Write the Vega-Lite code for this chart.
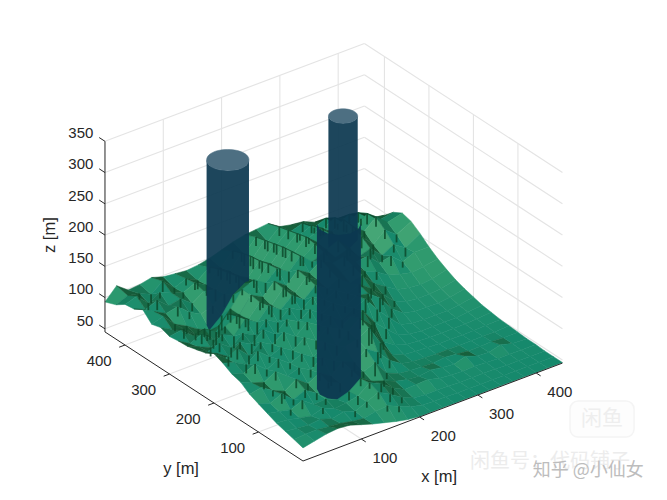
{"$schema":"https://vega.github.io/schema/vega-lite/v6.json","width":667,"height":500,"padding":0,"autosize":{"type":"fit","contains":"padding"},"background":"white","view":{"stroke":null},
"datasets":{
"t":[
{"y":445,"x":0,"z":93},{"y":445,"x":20,"z":112},{"y":445,"x":40,"z":98},{"y":445,"x":60,"z":100},{"y":445,"x":80,"z":104},{"y":445,"x":100,"z":98},{"y":445,"x":120,"z":96},{"y":445,"x":140,"z":94},{"y":445,"x":160,"z":96},{"y":445,"x":180,"z":100},{"y":445,"x":200,"z":106},{"y":445,"x":220,"z":112},{"y":445,"x":240,"z":116},{"y":445,"x":260,"z":118},{"y":445,"x":280,"z":120},{"y":445,"x":300,"z":108},{"y":445,"x":320,"z":104},{"y":445,"x":340,"z":102},{"y":445,"x":360,"z":94},{"y":445,"x":380,"z":90},{"y":445,"x":400,"z":86},{"y":445,"x":420,"z":80},{"y":445,"x":445,"z":74},
{"y":420,"x":0,"z":100},{"y":420,"x":20,"z":108},{"y":420,"x":40,"z":104},{"y":420,"x":60,"z":96},{"y":420,"x":80,"z":110},{"y":420,"x":100,"z":92},{"y":420,"x":120,"z":100},{"y":420,"x":140,"z":90},{"y":420,"x":160,"z":104},{"y":420,"x":180,"z":96},{"y":420,"x":200,"z":116},{"y":420,"x":220,"z":104},{"y":420,"x":240,"z":124},{"y":420,"x":260,"z":110},{"y":420,"x":280,"z":126},{"y":420,"x":300,"z":112},{"y":420,"x":320,"z":118},{"y":420,"x":340,"z":104},{"y":420,"x":360,"z":112},{"y":420,"x":380,"z":96},{"y":420,"x":400,"z":104},{"y":420,"x":420,"z":90},{"y":420,"x":445,"z":80},
{"y":400,"x":0,"z":110},{"y":400,"x":20,"z":116},{"y":400,"x":40,"z":98},{"y":400,"x":60,"z":108},{"y":400,"x":80,"z":100},{"y":400,"x":100,"z":94},{"y":400,"x":120,"z":102},{"y":400,"x":140,"z":92},{"y":400,"x":160,"z":110},{"y":400,"x":180,"z":100},{"y":400,"x":200,"z":122},{"y":400,"x":220,"z":108},{"y":400,"x":240,"z":128},{"y":400,"x":260,"z":114},{"y":400,"x":280,"z":130},{"y":400,"x":300,"z":116},{"y":400,"x":320,"z":124},{"y":400,"x":340,"z":112},{"y":400,"x":360,"z":122},{"y":400,"x":380,"z":104},{"y":400,"x":400,"z":116},{"y":400,"x":420,"z":100},{"y":400,"x":445,"z":96},
{"y":380,"x":0,"z":112},{"y":380,"x":20,"z":104},{"y":380,"x":40,"z":112},{"y":380,"x":60,"z":96},{"y":380,"x":80,"z":100},{"y":380,"x":100,"z":86},{"y":380,"x":120,"z":98},{"y":380,"x":140,"z":94},{"y":380,"x":160,"z":114},{"y":380,"x":180,"z":102},{"y":380,"x":200,"z":126},{"y":380,"x":220,"z":110},{"y":380,"x":240,"z":132},{"y":380,"x":260,"z":118},{"y":380,"x":280,"z":134},{"y":380,"x":300,"z":120},{"y":380,"x":320,"z":128},{"y":380,"x":340,"z":116},{"y":380,"x":360,"z":128},{"y":380,"x":380,"z":108},{"y":380,"x":400,"z":124},{"y":380,"x":420,"z":106},{"y":380,"x":445,"z":110},
{"y":360,"x":0,"z":120},{"y":360,"x":20,"z":110},{"y":360,"x":40,"z":100},{"y":360,"x":60,"z":104},{"y":360,"x":80,"z":88},{"y":360,"x":100,"z":78},{"y":360,"x":120,"z":84},{"y":360,"x":140,"z":96},{"y":360,"x":160,"z":118},{"y":360,"x":180,"z":108},{"y":360,"x":200,"z":128},{"y":360,"x":220,"z":116},{"y":360,"x":240,"z":136},{"y":360,"x":260,"z":120},{"y":360,"x":280,"z":138},{"y":360,"x":300,"z":122},{"y":360,"x":320,"z":130},{"y":360,"x":340,"z":112},{"y":360,"x":360,"z":126},{"y":360,"x":380,"z":112},{"y":360,"x":400,"z":128},{"y":360,"x":420,"z":112},{"y":360,"x":445,"z":118},
{"y":340,"x":0,"z":106},{"y":340,"x":20,"z":112},{"y":340,"x":40,"z":92},{"y":340,"x":60,"z":82},{"y":340,"x":80,"z":70},{"y":340,"x":100,"z":62},{"y":340,"x":120,"z":78},{"y":340,"x":140,"z":104},{"y":340,"x":160,"z":116},{"y":340,"x":180,"z":112},{"y":340,"x":200,"z":132},{"y":340,"x":220,"z":118},{"y":340,"x":240,"z":138},{"y":340,"x":260,"z":122},{"y":340,"x":280,"z":136},{"y":340,"x":300,"z":120},{"y":340,"x":320,"z":128},{"y":340,"x":340,"z":108},{"y":340,"x":360,"z":120},{"y":340,"x":380,"z":100},{"y":340,"x":400,"z":116},{"y":340,"x":420,"z":102},{"y":340,"x":445,"z":114},
{"y":320,"x":0,"z":110},{"y":320,"x":20,"z":100},{"y":320,"x":40,"z":94},{"y":320,"x":60,"z":78},{"y":320,"x":80,"z":70},{"y":320,"x":100,"z":78},{"y":320,"x":120,"z":98},{"y":320,"x":140,"z":122},{"y":320,"x":160,"z":130},{"y":320,"x":180,"z":118},{"y":320,"x":200,"z":134},{"y":320,"x":220,"z":122},{"y":320,"x":240,"z":140},{"y":320,"x":260,"z":124},{"y":320,"x":280,"z":132},{"y":320,"x":300,"z":116},{"y":320,"x":320,"z":122},{"y":320,"x":340,"z":104},{"y":320,"x":360,"z":110},{"y":320,"x":380,"z":92},{"y":320,"x":400,"z":102},{"y":320,"x":420,"z":90},{"y":320,"x":445,"z":104},
{"y":300,"x":0,"z":105},{"y":300,"x":20,"z":108},{"y":300,"x":40,"z":92},{"y":300,"x":60,"z":96},{"y":300,"x":80,"z":84},{"y":300,"x":100,"z":106},{"y":300,"x":120,"z":98},{"y":300,"x":140,"z":122},{"y":300,"x":160,"z":112},{"y":300,"x":180,"z":130},{"y":300,"x":200,"z":116},{"y":300,"x":220,"z":134},{"y":300,"x":240,"z":122},{"y":300,"x":260,"z":136},{"y":300,"x":280,"z":124},{"y":300,"x":300,"z":128},{"y":300,"x":320,"z":112},{"y":300,"x":340,"z":114},{"y":300,"x":360,"z":96},{"y":300,"x":380,"z":100},{"y":300,"x":400,"z":84},{"y":300,"x":420,"z":92},{"y":300,"x":445,"z":92},
{"y":280,"x":0,"z":107},{"y":280,"x":20,"z":96},{"y":280,"x":40,"z":104},{"y":280,"x":60,"z":88},{"y":280,"x":80,"z":102},{"y":280,"x":100,"z":112},{"y":280,"x":120,"z":100},{"y":280,"x":140,"z":120},{"y":280,"x":160,"z":108},{"y":280,"x":180,"z":128},{"y":280,"x":200,"z":114},{"y":280,"x":220,"z":132},{"y":280,"x":240,"z":120},{"y":280,"x":260,"z":130},{"y":280,"x":280,"z":118},{"y":280,"x":300,"z":122},{"y":280,"x":320,"z":106},{"y":280,"x":340,"z":98},{"y":280,"x":360,"z":86},{"y":280,"x":380,"z":80},{"y":280,"x":400,"z":76},{"y":280,"x":420,"z":78},{"y":280,"x":445,"z":82},
{"y":260,"x":0,"z":108},{"y":260,"x":20,"z":100},{"y":260,"x":40,"z":92},{"y":260,"x":60,"z":106},{"y":260,"x":80,"z":96},{"y":260,"x":100,"z":116},{"y":260,"x":120,"z":104},{"y":260,"x":140,"z":124},{"y":260,"x":160,"z":110},{"y":260,"x":180,"z":126},{"y":260,"x":200,"z":112},{"y":260,"x":220,"z":128},{"y":260,"x":240,"z":116},{"y":260,"x":260,"z":124},{"y":260,"x":280,"z":110},{"y":260,"x":300,"z":116},{"y":260,"x":320,"z":96},{"y":260,"x":340,"z":84},{"y":260,"x":360,"z":72},{"y":260,"x":380,"z":68},{"y":260,"x":400,"z":66},{"y":260,"x":420,"z":68},{"y":260,"x":445,"z":74},
{"y":240,"x":0,"z":112},{"y":240,"x":20,"z":102},{"y":240,"x":40,"z":108},{"y":240,"x":60,"z":94},{"y":240,"x":80,"z":110},{"y":240,"x":100,"z":100},{"y":240,"x":120,"z":118},{"y":240,"x":140,"z":106},{"y":240,"x":160,"z":122},{"y":240,"x":180,"z":112},{"y":240,"x":200,"z":126},{"y":240,"x":220,"z":114},{"y":240,"x":240,"z":122},{"y":240,"x":260,"z":110},{"y":240,"x":280,"z":118},{"y":240,"x":300,"z":104},{"y":240,"x":320,"z":88},{"y":240,"x":340,"z":70},{"y":240,"x":360,"z":62},{"y":240,"x":380,"z":60},{"y":240,"x":400,"z":60},{"y":240,"x":420,"z":62},{"y":240,"x":445,"z":67},
{"y":220,"x":0,"z":116},{"y":220,"x":20,"z":108},{"y":220,"x":40,"z":96},{"y":220,"x":60,"z":112},{"y":220,"x":80,"z":102},{"y":220,"x":100,"z":118},{"y":220,"x":120,"z":104},{"y":220,"x":140,"z":120},{"y":220,"x":160,"z":110},{"y":220,"x":180,"z":122},{"y":220,"x":200,"z":108},{"y":220,"x":220,"z":118},{"y":220,"x":240,"z":106},{"y":220,"x":260,"z":116},{"y":220,"x":280,"z":112},{"y":220,"x":300,"z":98},{"y":220,"x":320,"z":74},{"y":220,"x":340,"z":60},{"y":220,"x":360,"z":56},{"y":220,"x":380,"z":55},{"y":220,"x":400,"z":55},{"y":220,"x":420,"z":57},{"y":220,"x":445,"z":62},
{"y":200,"x":0,"z":124},{"y":200,"x":20,"z":110},{"y":200,"x":40,"z":118},{"y":200,"x":60,"z":100},{"y":200,"x":80,"z":114},{"y":200,"x":100,"z":104},{"y":200,"x":120,"z":116},{"y":200,"x":140,"z":102},{"y":200,"x":160,"z":118},{"y":200,"x":180,"z":106},{"y":200,"x":200,"z":114},{"y":200,"x":220,"z":100},{"y":200,"x":240,"z":112},{"y":200,"x":260,"z":120},{"y":200,"x":280,"z":96},{"y":200,"x":300,"z":76},{"y":200,"x":320,"z":58},{"y":200,"x":340,"z":53},{"y":200,"x":360,"z":52},{"y":200,"x":380,"z":52},{"y":200,"x":400,"z":52},{"y":200,"x":420,"z":54},{"y":200,"x":445,"z":58},
{"y":180,"x":0,"z":118},{"y":180,"x":20,"z":112},{"y":180,"x":40,"z":102},{"y":180,"x":60,"z":116},{"y":180,"x":80,"z":100},{"y":180,"x":100,"z":108},{"y":180,"x":120,"z":96},{"y":180,"x":140,"z":110},{"y":180,"x":160,"z":98},{"y":180,"x":180,"z":112},{"y":180,"x":200,"z":102},{"y":180,"x":220,"z":116},{"y":180,"x":240,"z":118},{"y":180,"x":260,"z":92},{"y":180,"x":280,"z":74},{"y":180,"x":300,"z":58},{"y":180,"x":320,"z":52},{"y":180,"x":340,"z":50},{"y":180,"x":360,"z":50},{"y":180,"x":380,"z":50},{"y":180,"x":400,"z":50},{"y":180,"x":420,"z":52},{"y":180,"x":445,"z":54},
{"y":160,"x":0,"z":110},{"y":160,"x":20,"z":104},{"y":160,"x":40,"z":112},{"y":160,"x":60,"z":96},{"y":160,"x":80,"z":106},{"y":160,"x":100,"z":92},{"y":160,"x":120,"z":100},{"y":160,"x":140,"z":88},{"y":160,"x":160,"z":104},{"y":160,"x":180,"z":92},{"y":160,"x":200,"z":108},{"y":160,"x":220,"z":122},{"y":160,"x":240,"z":104},{"y":160,"x":260,"z":70},{"y":160,"x":280,"z":58},{"y":160,"x":300,"z":52},{"y":160,"x":320,"z":50},{"y":160,"x":340,"z":49},{"y":160,"x":360,"z":49},{"y":160,"x":380,"z":49},{"y":160,"x":400,"z":49},{"y":160,"x":420,"z":50},{"y":160,"x":445,"z":52},
{"y":140,"x":0,"z":106},{"y":140,"x":20,"z":98},{"y":140,"x":40,"z":92},{"y":140,"x":60,"z":102},{"y":140,"x":80,"z":88},{"y":140,"x":100,"z":94},{"y":140,"x":120,"z":84},{"y":140,"x":140,"z":96},{"y":140,"x":160,"z":84},{"y":140,"x":180,"z":100},{"y":140,"x":200,"z":104},{"y":140,"x":220,"z":116},{"y":140,"x":240,"z":84},{"y":140,"x":260,"z":58},{"y":140,"x":280,"z":52},{"y":140,"x":300,"z":50},{"y":140,"x":320,"z":49},{"y":140,"x":340,"z":48},{"y":140,"x":360,"z":48},{"y":140,"x":380,"z":48},{"y":140,"x":400,"z":48},{"y":140,"x":420,"z":49},{"y":140,"x":445,"z":50},
{"y":120,"x":0,"z":96},{"y":120,"x":20,"z":100},{"y":120,"x":40,"z":88},{"y":120,"x":60,"z":80},{"y":120,"x":80,"z":92},{"y":120,"x":100,"z":78},{"y":120,"x":120,"z":88},{"y":120,"x":140,"z":76},{"y":120,"x":160,"z":92},{"y":120,"x":180,"z":84},{"y":120,"x":200,"z":98},{"y":120,"x":220,"z":86},{"y":120,"x":240,"z":66},{"y":120,"x":260,"z":54},{"y":120,"x":280,"z":50},{"y":120,"x":300,"z":49},{"y":120,"x":320,"z":48},{"y":120,"x":340,"z":48},{"y":120,"x":360,"z":48},{"y":120,"x":380,"z":48},{"y":120,"x":400,"z":48},{"y":120,"x":420,"z":48},{"y":120,"x":445,"z":49},
{"y":100,"x":0,"z":90},{"y":100,"x":20,"z":84},{"y":100,"x":40,"z":92},{"y":100,"x":60,"z":76},{"y":100,"x":80,"z":84},{"y":100,"x":100,"z":72},{"y":100,"x":120,"z":82},{"y":100,"x":140,"z":74},{"y":100,"x":160,"z":88},{"y":100,"x":180,"z":78},{"y":100,"x":200,"z":86},{"y":100,"x":220,"z":62},{"y":100,"x":240,"z":54},{"y":100,"x":260,"z":52},{"y":100,"x":280,"z":51},{"y":100,"x":300,"z":50},{"y":100,"x":320,"z":52},{"y":100,"x":340,"z":50},{"y":100,"x":360,"z":48},{"y":100,"x":380,"z":48},{"y":100,"x":400,"z":49},{"y":100,"x":420,"z":48},{"y":100,"x":445,"z":48},
{"y":80,"x":0,"z":84},{"y":80,"x":20,"z":80},{"y":80,"x":40,"z":76},{"y":80,"x":60,"z":84},{"y":80,"x":80,"z":70},{"y":80,"x":100,"z":72},{"y":80,"x":120,"z":64},{"y":80,"x":140,"z":70},{"y":80,"x":160,"z":84},{"y":80,"x":180,"z":72},{"y":80,"x":200,"z":66},{"y":80,"x":220,"z":58},{"y":80,"x":240,"z":54},{"y":80,"x":260,"z":52},{"y":80,"x":280,"z":55},{"y":80,"x":300,"z":52},{"y":80,"x":320,"z":50},{"y":80,"x":340,"z":56},{"y":80,"x":360,"z":49},{"y":80,"x":380,"z":48},{"y":80,"x":400,"z":53},{"y":80,"x":420,"z":48},{"y":80,"x":445,"z":47},
{"y":60,"x":0,"z":78},{"y":60,"x":20,"z":76},{"y":60,"x":40,"z":72},{"y":60,"x":60,"z":68},{"y":60,"x":80,"z":74},{"y":60,"x":100,"z":66},{"y":60,"x":120,"z":68},{"y":60,"x":140,"z":72},{"y":60,"x":160,"z":86},{"y":60,"x":180,"z":78},{"y":60,"x":200,"z":64},{"y":60,"x":220,"z":54},{"y":60,"x":240,"z":55},{"y":60,"x":260,"z":56},{"y":60,"x":280,"z":51},{"y":60,"x":300,"z":49},{"y":60,"x":320,"z":48},{"y":60,"x":340,"z":49},{"y":60,"x":360,"z":48},{"y":60,"x":380,"z":47},{"y":60,"x":400,"z":47},{"y":60,"x":420,"z":47},{"y":60,"x":445,"z":47},
{"y":40,"x":0,"z":74},{"y":40,"x":20,"z":72},{"y":40,"x":40,"z":70},{"y":40,"x":60,"z":72},{"y":40,"x":80,"z":66},{"y":40,"x":100,"z":70},{"y":40,"x":120,"z":64},{"y":40,"x":140,"z":72},{"y":40,"x":160,"z":80},{"y":40,"x":180,"z":70},{"y":40,"x":200,"z":58},{"y":40,"x":220,"z":50},{"y":40,"x":240,"z":48},{"y":40,"x":260,"z":48},{"y":40,"x":280,"z":48},{"y":40,"x":300,"z":47},{"y":40,"x":320,"z":47},{"y":40,"x":340,"z":47},{"y":40,"x":360,"z":47},{"y":40,"x":380,"z":46},{"y":40,"x":400,"z":46},{"y":40,"x":420,"z":46},{"y":40,"x":445,"z":46},
{"y":20,"x":0,"z":70},{"y":20,"x":20,"z":72},{"y":20,"x":40,"z":72},{"y":20,"x":60,"z":70},{"y":20,"x":80,"z":68},{"y":20,"x":100,"z":64},{"y":20,"x":120,"z":62},{"y":20,"x":140,"z":66},{"y":20,"x":160,"z":68},{"y":20,"x":180,"z":60},{"y":20,"x":200,"z":52},{"y":20,"x":220,"z":48},{"y":20,"x":240,"z":47},{"y":20,"x":260,"z":47},{"y":20,"x":280,"z":46},{"y":20,"x":300,"z":46},{"y":20,"x":320,"z":46},{"y":20,"x":340,"z":46},{"y":20,"x":360,"z":46},{"y":20,"x":380,"z":46},{"y":20,"x":400,"z":46},{"y":20,"x":420,"z":46},{"y":20,"x":445,"z":46},
{"y":0,"x":0,"z":66},{"y":0,"x":20,"z":70},{"y":0,"x":40,"z":74},{"y":0,"x":60,"z":76},{"y":0,"x":80,"z":74},{"y":0,"x":100,"z":68},{"y":0,"x":120,"z":62},{"y":0,"x":140,"z":57},{"y":0,"x":160,"z":52},{"y":0,"x":180,"z":48},{"y":0,"x":200,"z":46},{"y":0,"x":220,"z":46},{"y":0,"x":240,"z":46},{"y":0,"x":260,"z":46},{"y":0,"x":280,"z":46},{"y":0,"x":300,"z":46},{"y":0,"x":320,"z":46},{"y":0,"x":340,"z":46},{"y":0,"x":360,"z":46},{"y":0,"x":380,"z":46},{"y":0,"x":400,"z":46},{"y":0,"x":420,"z":46},{"y":0,"x":445,"z":46}
],
"lines":[
{"k":"grid","x":100,"y":445,"z":45,"x2":100,"y2":445,"z2":350},{"k":"grid","x":200,"y":445,"z":45,"x2":200,"y2":445,"z2":350},{"k":"grid","x":300,"y":445,"z":45,"x2":300,"y2":445,"z2":350},{"k":"grid","x":400,"y":445,"z":45,"x2":400,"y2":445,"z2":350},
{"k":"grid","x":445,"y":100,"z":45,"x2":445,"y2":100,"z2":350},{"k":"grid","x":445,"y":200,"z":45,"x2":445,"y2":200,"z2":350},{"k":"grid","x":445,"y":300,"z":45,"x2":445,"y2":300,"z2":350},{"k":"grid","x":445,"y":400,"z":45,"x2":445,"y2":400,"z2":350},
{"k":"grid","x":0,"y":445,"z":50,"x2":445,"y2":445,"z2":50},{"k":"grid","x":0,"y":445,"z":100,"x2":445,"y2":445,"z2":100},{"k":"grid","x":0,"y":445,"z":150,"x2":445,"y2":445,"z2":150},{"k":"grid","x":0,"y":445,"z":200,"x2":445,"y2":445,"z2":200},{"k":"grid","x":0,"y":445,"z":250,"x2":445,"y2":445,"z2":250},{"k":"grid","x":0,"y":445,"z":300,"x2":445,"y2":445,"z2":300},{"k":"grid","x":0,"y":445,"z":350,"x2":445,"y2":445,"z2":350},
{"k":"grid","x":445,"y":0,"z":50,"x2":445,"y2":445,"z2":50},{"k":"grid","x":445,"y":0,"z":100,"x2":445,"y2":445,"z2":100},{"k":"grid","x":445,"y":0,"z":150,"x2":445,"y2":445,"z2":150},{"k":"grid","x":445,"y":0,"z":200,"x2":445,"y2":445,"z2":200},{"k":"grid","x":445,"y":0,"z":250,"x2":445,"y2":445,"z2":250},{"k":"grid","x":445,"y":0,"z":300,"x2":445,"y2":445,"z2":300},{"k":"grid","x":445,"y":0,"z":350,"x2":445,"y2":445,"z2":350},
{"k":"grid","x":100,"y":0,"z":45,"x2":100,"y2":445,"z2":45},{"k":"grid","x":200,"y":0,"z":45,"x2":200,"y2":445,"z2":45},{"k":"grid","x":300,"y":0,"z":45,"x2":300,"y2":445,"z2":45},{"k":"grid","x":400,"y":0,"z":45,"x2":400,"y2":445,"z2":45},
{"k":"grid","x":0,"y":100,"z":45,"x2":445,"y2":100,"z2":45},{"k":"grid","x":0,"y":200,"z":45,"x2":445,"y2":200,"z2":45},{"k":"grid","x":0,"y":300,"z":45,"x2":445,"y2":300,"z2":45},{"k":"grid","x":0,"y":400,"z":45,"x2":445,"y2":400,"z2":45},
{"k":"axis","x":0,"y":445,"z":45,"x2":0,"y2":445,"z2":350},{"k":"axis","x":0,"y":0,"z":45,"x2":0,"y2":445,"z2":45},{"k":"axis","x":0,"y":0,"z":45,"x2":445,"y2":0,"z2":45},
{"k":"axis","x":0,"y":445,"z":50,"x2":0,"y2":458,"z2":50},{"k":"axis","x":0,"y":445,"z":100,"x2":0,"y2":458,"z2":100},{"k":"axis","x":0,"y":445,"z":150,"x2":0,"y2":458,"z2":150},{"k":"axis","x":0,"y":445,"z":200,"x2":0,"y2":458,"z2":200},{"k":"axis","x":0,"y":445,"z":250,"x2":0,"y2":458,"z2":250},{"k":"axis","x":0,"y":445,"z":300,"x2":0,"y2":458,"z2":300},{"k":"axis","x":0,"y":445,"z":350,"x2":0,"y2":458,"z2":350},
{"k":"axis","x":100,"y":0,"z":45,"x2":100,"y2":-10,"z2":45},{"k":"axis","x":200,"y":0,"z":45,"x2":200,"y2":-10,"z2":45},{"k":"axis","x":300,"y":0,"z":45,"x2":300,"y2":-10,"z2":45},{"k":"axis","x":400,"y":0,"z":45,"x2":400,"y2":-10,"z2":45},
{"k":"axis","x":0,"y":100,"z":45,"x2":-10,"y2":100,"z2":45},{"k":"axis","x":0,"y":200,"z":45,"x2":-10,"y2":200,"z2":45},{"k":"axis","x":0,"y":300,"z":45,"x2":-10,"y2":300,"z2":45},{"k":"axis","x":0,"y":400,"z":45,"x2":-10,"y2":400,"z2":45}
],
"cyl":[
{"c":"A","t":0,"x":168,"y":341.5},{"c":"A","t":30,"x":156,"y":332},{"c":"A","t":60,"x":141,"y":330},{"c":"A","t":90,"x":127.5,"y":336},{"c":"A","t":120,"x":118,"y":348},{"c":"A","t":150,"x":116,"y":363},{"c":"A","t":180,"x":122,"y":376.5},{"c":"A","t":210,"x":134,"y":386},{"c":"A","t":240,"x":149,"y":388},{"c":"A","t":270,"x":162.5,"y":382},{"c":"A","t":300,"x":172,"y":370},{"c":"A","t":330,"x":174,"y":355},
{"c":"B","t":0,"x":359.4,"y":347.9},{"c":"B","t":30,"x":351.3,"y":341.6},{"c":"B","t":60,"x":341,"y":340.2},{"c":"B","t":90,"x":331.4,"y":344.1},{"c":"B","t":120,"x":325.1,"y":352.2},{"c":"B","t":150,"x":323.7,"y":362.5},{"c":"B","t":180,"x":327.6,"y":372.1},{"c":"B","t":210,"x":335.7,"y":378.4},{"c":"B","t":240,"x":346,"y":379.8},{"c":"B","t":270,"x":355.6,"y":375.9},{"c":"B","t":300,"x":361.9,"y":367.8},{"c":"B","t":330,"x":363.3,"y":357.5},
{"c":"C","t":0,"x":182.9,"y":109.5},{"c":"C","t":30,"x":170.6,"y":99.9},{"c":"C","t":60,"x":155.3,"y":97.8},{"c":"C","t":90,"x":140.9,"y":103.7},{"c":"C","t":120,"x":131.3,"y":116},{"c":"C","t":150,"x":129.2,"y":131.3},{"c":"C","t":180,"x":135.1,"y":145.7}
],
"labels":[
{"g":"z","s":"350","x":0,"y":471,"z":351},{"g":"z","s":"300","x":0,"y":471,"z":301},{"g":"z","s":"250","x":0,"y":471,"z":251},{"g":"z","s":"200","x":0,"y":471,"z":201},{"g":"z","s":"150","x":0,"y":471,"z":151},{"g":"z","s":"100","x":0,"y":471,"z":101},{"g":"z","s":"50","x":0,"y":471,"z":51},
{"g":"c","s":"100","x":94,"y":-61,"z":45},{"g":"c","s":"200","x":194,"y":-61,"z":45},{"g":"c","s":"300","x":294,"y":-61,"z":45},{"g":"c","s":"400","x":394,"y":-61,"z":45},
{"g":"c","s":"100","x":-55,"y":86,"z":45},{"g":"c","s":"200","x":-55,"y":186,"z":45},{"g":"c","s":"300","x":-55,"y":286,"z":45},{"g":"c","s":"400","x":-55,"y":386,"z":45},
{"g":"t","s":"x [m]","x":122,"y":-146,"z":45},{"g":"t","s":"y [m]","x":-145,"y":84,"z":45},{"g":"r","s":"z [m]","x":0,"y":568.5,"z":142.6},
{"g":"w","s":"闲鱼号：代码铺子","x":266.7,"y":-205.8,"z":45},{"g":"m","s":"知乎 @小仙女","x":293,"y":-257,"z":45},{"g":"i","s":"闲鱼","x":394.8,"y":-154.8,"z":45}
]
},
"layer":[
{"data":{"name":"lines"},"transform":[{"filter":"datum.k=='grid'"},{"calculate":"303+0.583*datum.x-0.445*datum.y","as":"sx"},{"calculate":"461-0.22*datum.x-0.29*datum.y-0.625*(datum.z-45)","as":"sy"},{"calculate":"303+0.583*datum.x2-0.445*datum.y2","as":"sx2"},{"calculate":"461-0.22*datum.x2-0.29*datum.y2-0.625*(datum.z2-45)","as":"sy2"}],
"mark":{"type":"rule","color":"#e4e4e4","strokeWidth":1.1},
"encoding":{"x":{"field":"sx","type":"quantitative","scale":{"domain":[0,667]},"axis":null},"y":{"field":"sy","type":"quantitative","scale":{"domain":[0,500],"reverse":true},"axis":null},"x2":{"field":"sx2"},"y2":{"field":"sy2"}}},
{"data":{"name":"t"},"transform":[{"window":[{"op":"lag","field":"z","as":"zf"},{"op":"lag","field":"y","as":"yf"}],"groupby":["x"],"sort":[{"field":"y","order":"ascending"}]},{"window":[{"op":"lead","field":"z","as":"zn"},{"op":"lead","field":"x","as":"xn"},{"op":"lead","field":"zf","as":"zfn"}],"groupby":["y"],"sort":[{"field":"x","order":"ascending"}]},{"filter":"isValid(datum.xn) && isValid(datum.yf) && datum.y>=360"},{"calculate":"(datum.zn-datum.z)+(datum.z-datum.zf)","as":"shade"},{"calculate":"datum.x+'_'+datum.y","as":"cell"},{"calculate":"[0,1,2,3]","as":"k"},{"flatten":["k"]},{"calculate":"(datum.k==0||datum.k==3)?datum.x:datum.xn","as":"px"},{"calculate":"datum.k<2?datum.y:datum.yf","as":"py"},{"calculate":"[datum.z,datum.zn,datum.zfn,datum.zf][datum.k]","as":"pz"},{"calculate":"303+0.583*datum.px-0.445*datum.py","as":"sx"},{"calculate":"461-0.22*datum.px-0.29*datum.py-0.625*(datum.pz-45)","as":"sy"}],
"mark":{"type":"line","strokeWidth":0.5,"interpolate":"linear-closed"},
"encoding":{"x":{"field":"sx","type":"quantitative","scale":{"domain":[0,667]},"axis":null},"y":{"field":"sy","type":"quantitative","scale":{"domain":[0,500],"reverse":true},"axis":null},"detail":{"field":"cell"},"order":{"field":"k"},"fill":{"field":"shade","type":"quantitative","scale":{"domain":[-30,-8,0,14,45],"range":["#0a3a22","#17603c","#16896c","#2f9a6e","#5db57f"]},"legend":null},"stroke":{"field":"shade","type":"quantitative","scale":{"domain":[-30,-8,0,14,45],"range":["#0a3a22","#17603c","#16896c","#2f9a6e","#5db57f"]},"legend":null}}},
{"data":{"name":"t"},"transform":[{"window":[{"op":"lead","field":"z","as":"zn"}],"groupby":["y"],"sort":[{"field":"x","order":"ascending"}]},{"filter":"isValid(datum.zn)"},{"calculate":"abs(datum.zn-datum.z)","as":"r"},{"filter":"datum.r>=8 && datum.x>=40 && datum.y>=360 && datum.y<445"},{"calculate":"303+0.583*datum.x-0.445*datum.y","as":"sx"},{"calculate":"461-0.22*datum.x-0.29*datum.y-0.625*(datum.z-45)","as":"sy"},{"calculate":"datum.sy+2+0.5*datum.r","as":"sb"}],
"mark":{"type":"rule","color":"#0d4a2c","strokeWidth":1.8,"opacity":0.85},
"encoding":{"x":{"field":"sx","type":"quantitative","scale":{"domain":[0,667]},"axis":null},"y":{"field":"sy","type":"quantitative","scale":{"domain":[0,500],"reverse":true},"axis":null},"y2":{"field":"sb"}}},
{"data":{"name":"cyl"},"transform":[{"filter":"datum.c!='C' && datum.t<=180"},{"calculate":"[0,1]","as":"lvl"},{"flatten":["lvl"]},{"calculate":"datum.lvl?1000-datum.t:datum.t","as":"ord"},{"calculate":"303+0.583*datum.x-0.445*datum.y","as":"sx"},{"calculate":"461-0.22*datum.x-0.29*datum.y-0.625*(datum.lvl?0:264)","as":"sy"}],
"mark":{"type":"line","fill":"#0c3850","stroke":null,"fillOpacity":0.93,"interpolate":"linear-closed"},
"encoding":{"x":{"field":"sx","type":"quantitative","scale":{"domain":[0,667]},"axis":null},"y":{"field":"sy","type":"quantitative","scale":{"domain":[0,500],"reverse":true},"axis":null},"detail":{"field":"c"},"order":{"field":"ord"}}},
{"data":{"name":"cyl"},"transform":[{"filter":"datum.c!='C'"},{"calculate":"303+0.583*datum.x-0.445*datum.y","as":"sx"},{"calculate":"461-0.22*datum.x-0.29*datum.y-0.625*264","as":"sy"}],
"mark":{"type":"line","fill":"#4d6f82","stroke":"#4d6f82","strokeWidth":0.5,"interpolate":"cardinal-closed"},
"encoding":{"x":{"field":"sx","type":"quantitative","scale":{"domain":[0,667]},"axis":null},"y":{"field":"sy","type":"quantitative","scale":{"domain":[0,500],"reverse":true},"axis":null},"detail":{"field":"c"},"order":{"field":"t"}}},
{"data":{"name":"t"},"transform":[{"window":[{"op":"lag","field":"z","as":"zf"},{"op":"lag","field":"y","as":"yf"}],"groupby":["x"],"sort":[{"field":"y","order":"ascending"}]},{"window":[{"op":"lead","field":"z","as":"zn"},{"op":"lead","field":"x","as":"xn"},{"op":"lead","field":"zf","as":"zfn"}],"groupby":["y"],"sort":[{"field":"x","order":"ascending"}]},{"filter":"isValid(datum.xn) && isValid(datum.yf) && datum.y<360 && datum.y>=100"},{"calculate":"(datum.zn-datum.z)+(datum.z-datum.zf)","as":"shade"},{"calculate":"datum.x+'_'+datum.y","as":"cell"},{"calculate":"[0,1,2,3]","as":"k"},{"flatten":["k"]},{"calculate":"(datum.k==0||datum.k==3)?datum.x:datum.xn","as":"px"},{"calculate":"datum.k<2?datum.y:datum.yf","as":"py"},{"calculate":"[datum.z,datum.zn,datum.zfn,datum.zf][datum.k]","as":"pz"},{"calculate":"303+0.583*datum.px-0.445*datum.py","as":"sx"},{"calculate":"461-0.22*datum.px-0.29*datum.py-0.625*(datum.pz-45)","as":"sy"}],
"mark":{"type":"line","strokeWidth":0.5,"interpolate":"linear-closed"},
"encoding":{"x":{"field":"sx","type":"quantitative","scale":{"domain":[0,667]},"axis":null},"y":{"field":"sy","type":"quantitative","scale":{"domain":[0,500],"reverse":true},"axis":null},"detail":{"field":"cell"},"order":{"field":"k"},"fill":{"field":"shade","type":"quantitative","scale":{"domain":[-30,-8,0,14,45],"range":["#0a3a22","#17603c","#16896c","#2f9a6e","#5db57f"]},"legend":null},"stroke":{"field":"shade","type":"quantitative","scale":{"domain":[-30,-8,0,14,45],"range":["#0a3a22","#17603c","#16896c","#2f9a6e","#5db57f"]},"legend":null}}},
{"data":{"name":"t"},"transform":[{"window":[{"op":"lead","field":"z","as":"zn"}],"groupby":["y"],"sort":[{"field":"x","order":"ascending"}]},{"filter":"isValid(datum.zn)"},{"calculate":"abs(datum.zn-datum.z)","as":"r"},{"filter":"datum.r>=8 && datum.x>=40 && datum.y<360 && datum.y>=100"},{"calculate":"303+0.583*datum.x-0.445*datum.y","as":"sx"},{"calculate":"461-0.22*datum.x-0.29*datum.y-0.625*(datum.z-45)","as":"sy"},{"calculate":"datum.sy+2+0.5*datum.r","as":"sb"}],
"mark":{"type":"rule","color":"#0d4a2c","strokeWidth":1.8,"opacity":0.85},
"encoding":{"x":{"field":"sx","type":"quantitative","scale":{"domain":[0,667]},"axis":null},"y":{"field":"sy","type":"quantitative","scale":{"domain":[0,500],"reverse":true},"axis":null},"y2":{"field":"sb"}}},
{"data":{"name":"cyl"},"transform":[{"filter":"datum.c=='C'"},{"calculate":"[0,1]","as":"lvl"},{"flatten":["lvl"]},{"calculate":"datum.lvl?1000-datum.t:datum.t","as":"ord"},{"calculate":"303+0.583*datum.x-0.445*datum.y","as":"sx"},{"calculate":"461-0.22*datum.x-0.29*datum.y-0.625*(datum.lvl?0:264)","as":"sy"}],
"mark":{"type":"line","fill":"#0c3850","stroke":null,"fillOpacity":0.95,"interpolate":"linear-closed"},
"encoding":{"x":{"field":"sx","type":"quantitative","scale":{"domain":[0,667]},"axis":null},"y":{"field":"sy","type":"quantitative","scale":{"domain":[0,500],"reverse":true},"axis":null},"detail":{"field":"c"},"order":{"field":"ord"}}},
{"data":{"name":"t"},"transform":[{"window":[{"op":"lag","field":"z","as":"zf"},{"op":"lag","field":"y","as":"yf"}],"groupby":["x"],"sort":[{"field":"y","order":"ascending"}]},{"window":[{"op":"lead","field":"z","as":"zn"},{"op":"lead","field":"x","as":"xn"},{"op":"lead","field":"zf","as":"zfn"}],"groupby":["y"],"sort":[{"field":"x","order":"ascending"}]},{"filter":"isValid(datum.xn) && isValid(datum.yf) && datum.y<100"},{"calculate":"(datum.zn-datum.z)+(datum.z-datum.zf)","as":"shade"},{"calculate":"datum.x+'_'+datum.y","as":"cell"},{"calculate":"[0,1,2,3]","as":"k"},{"flatten":["k"]},{"calculate":"(datum.k==0||datum.k==3)?datum.x:datum.xn","as":"px"},{"calculate":"datum.k<2?datum.y:datum.yf","as":"py"},{"calculate":"[datum.z,datum.zn,datum.zfn,datum.zf][datum.k]","as":"pz"},{"calculate":"303+0.583*datum.px-0.445*datum.py","as":"sx"},{"calculate":"461-0.22*datum.px-0.29*datum.py-0.625*(datum.pz-45)","as":"sy"}],
"mark":{"type":"line","strokeWidth":0.5,"interpolate":"linear-closed"},
"encoding":{"x":{"field":"sx","type":"quantitative","scale":{"domain":[0,667]},"axis":null},"y":{"field":"sy","type":"quantitative","scale":{"domain":[0,500],"reverse":true},"axis":null},"detail":{"field":"cell"},"order":{"field":"k"},"fill":{"field":"shade","type":"quantitative","scale":{"domain":[-30,-8,0,14,45],"range":["#0a3a22","#17603c","#16896c","#2f9a6e","#5db57f"]},"legend":null},"stroke":{"field":"shade","type":"quantitative","scale":{"domain":[-30,-8,0,14,45],"range":["#0a3a22","#17603c","#16896c","#2f9a6e","#5db57f"]},"legend":null}}},
{"data":{"name":"t"},"transform":[{"window":[{"op":"lead","field":"z","as":"zn"}],"groupby":["y"],"sort":[{"field":"x","order":"ascending"}]},{"filter":"isValid(datum.zn)"},{"calculate":"abs(datum.zn-datum.z)","as":"r"},{"filter":"datum.r>=8 && datum.x>=40 && datum.y<100 && datum.y>0"},{"calculate":"303+0.583*datum.x-0.445*datum.y","as":"sx"},{"calculate":"461-0.22*datum.x-0.29*datum.y-0.625*(datum.z-45)","as":"sy"},{"calculate":"datum.sy+2+0.5*datum.r","as":"sb"}],
"mark":{"type":"rule","color":"#0d4a2c","strokeWidth":1.8,"opacity":0.85},
"encoding":{"x":{"field":"sx","type":"quantitative","scale":{"domain":[0,667]},"axis":null},"y":{"field":"sy","type":"quantitative","scale":{"domain":[0,500],"reverse":true},"axis":null},"y2":{"field":"sb"}}},
{"data":{"name":"lines"},"transform":[{"filter":"datum.k=='axis'"},{"calculate":"303+0.583*datum.x-0.445*datum.y","as":"sx"},{"calculate":"461-0.22*datum.x-0.29*datum.y-0.625*(datum.z-45)","as":"sy"},{"calculate":"303+0.583*datum.x2-0.445*datum.y2","as":"sx2"},{"calculate":"461-0.22*datum.x2-0.29*datum.y2-0.625*(datum.z2-45)","as":"sy2"}],
"mark":{"type":"rule","color":"#262626","strokeWidth":1},
"encoding":{"x":{"field":"sx","type":"quantitative","scale":{"domain":[0,667]},"axis":null},"y":{"field":"sy","type":"quantitative","scale":{"domain":[0,500],"reverse":true},"axis":null},"x2":{"field":"sx2"},"y2":{"field":"sy2"}}},
{"data":{"name":"labels"},"transform":[{"filter":"datum.g=='z'"},{"calculate":"303+0.583*datum.x-0.445*datum.y","as":"sx"},{"calculate":"461-0.22*datum.x-0.29*datum.y-0.625*(datum.z-45)","as":"sy"}],
"mark":{"type":"text","align":"right","baseline":"middle","font":"Liberation Sans","fontSize":15,"color":"#262626"},
"encoding":{"x":{"field":"sx","type":"quantitative","scale":{"domain":[0,667]},"axis":null},"y":{"field":"sy","type":"quantitative","scale":{"domain":[0,500],"reverse":true},"axis":null},"text":{"field":"s"}}},
{"data":{"name":"labels"},"transform":[{"filter":"datum.g=='c'"},{"calculate":"303+0.583*datum.x-0.445*datum.y","as":"sx"},{"calculate":"461-0.22*datum.x-0.29*datum.y-0.625*(datum.z-45)","as":"sy"}],
"mark":{"type":"text","align":"center","baseline":"middle","font":"Liberation Sans","fontSize":15,"color":"#262626"},
"encoding":{"x":{"field":"sx","type":"quantitative","scale":{"domain":[0,667]},"axis":null},"y":{"field":"sy","type":"quantitative","scale":{"domain":[0,500],"reverse":true},"axis":null},"text":{"field":"s"}}},
{"data":{"name":"labels"},"transform":[{"filter":"datum.g=='t'"},{"calculate":"303+0.583*datum.x-0.445*datum.y","as":"sx"},{"calculate":"461-0.22*datum.x-0.29*datum.y-0.625*(datum.z-45)","as":"sy"}],
"mark":{"type":"text","align":"center","baseline":"middle","font":"Liberation Sans","fontSize":16.5,"color":"#262626"},
"encoding":{"x":{"field":"sx","type":"quantitative","scale":{"domain":[0,667]},"axis":null},"y":{"field":"sy","type":"quantitative","scale":{"domain":[0,500],"reverse":true},"axis":null},"text":{"field":"s"}}},
{"data":{"name":"labels"},"transform":[{"filter":"datum.g=='r'"},{"calculate":"303+0.583*datum.x-0.445*datum.y","as":"sx"},{"calculate":"461-0.22*datum.x-0.29*datum.y-0.625*(datum.z-45)","as":"sy"}],
"mark":{"type":"text","align":"center","baseline":"middle","angle":270,"font":"Liberation Sans","fontSize":16.5,"color":"#262626"},
"encoding":{"x":{"field":"sx","type":"quantitative","scale":{"domain":[0,667]},"axis":null},"y":{"field":"sy","type":"quantitative","scale":{"domain":[0,500],"reverse":true},"axis":null},"text":{"field":"s"}}},
{"data":{"name":"labels"},"transform":[{"filter":"datum.g=='i'"},{"calculate":"303+0.583*datum.x-0.445*datum.y-32","as":"sx"},{"calculate":"303+0.583*datum.x-0.445*datum.y+32","as":"sx2"},{"calculate":"461-0.22*datum.x-0.29*datum.y-18","as":"sy"},{"calculate":"461-0.22*datum.x-0.29*datum.y+18","as":"sy2"}],
"mark":{"type":"rect","cornerRadius":8,"fill":"#fdfdfd","stroke":"#f4f4f4","strokeWidth":1.5},
"encoding":{"x":{"field":"sx","type":"quantitative","scale":{"domain":[0,667]},"axis":null},"y":{"field":"sy","type":"quantitative","scale":{"domain":[0,500],"reverse":true},"axis":null},"x2":{"field":"sx2"},"y2":{"field":"sy2"}}},
{"data":{"name":"labels"},"transform":[{"filter":"datum.g=='i'"},{"calculate":"303+0.583*datum.x-0.445*datum.y","as":"sx"},{"calculate":"461-0.22*datum.x-0.29*datum.y-0.625*(datum.z-45)","as":"sy"}],
"mark":{"type":"text","align":"center","baseline":"middle","font":"Noto Sans CJK SC","fontSize":21,"color":"#eeeeee"},
"encoding":{"x":{"field":"sx","type":"quantitative","scale":{"domain":[0,667]},"axis":null},"y":{"field":"sy","type":"quantitative","scale":{"domain":[0,500],"reverse":true},"axis":null},"text":{"field":"s"}}},
{"data":{"name":"labels"},"transform":[{"filter":"datum.g=='w'"},{"calculate":"303+0.583*datum.x-0.445*datum.y","as":"sx"},{"calculate":"461-0.22*datum.x-0.29*datum.y-0.625*(datum.z-45)","as":"sy"}],
"mark":{"type":"text","align":"center","baseline":"middle","font":"Noto Sans CJK SC","fontSize":20,"color":"#ececec"},
"encoding":{"x":{"field":"sx","type":"quantitative","scale":{"domain":[0,667]},"axis":null},"y":{"field":"sy","type":"quantitative","scale":{"domain":[0,500],"reverse":true},"axis":null},"text":{"field":"s"}}},
{"data":{"name":"labels"},"transform":[{"filter":"datum.g=='m'"},{"calculate":"303+0.583*datum.x-0.445*datum.y","as":"sx"},{"calculate":"461-0.22*datum.x-0.29*datum.y-0.625*(datum.z-45)","as":"sy"}],
"mark":{"type":"text","align":"center","baseline":"middle","font":"Noto Sans CJK SC","fontSize":18,"color":"#bdbdbd"},
"encoding":{"x":{"field":"sx","type":"quantitative","scale":{"domain":[0,667]},"axis":null},"y":{"field":"sy","type":"quantitative","scale":{"domain":[0,500],"reverse":true},"axis":null},"text":{"field":"s"}}}
]}
